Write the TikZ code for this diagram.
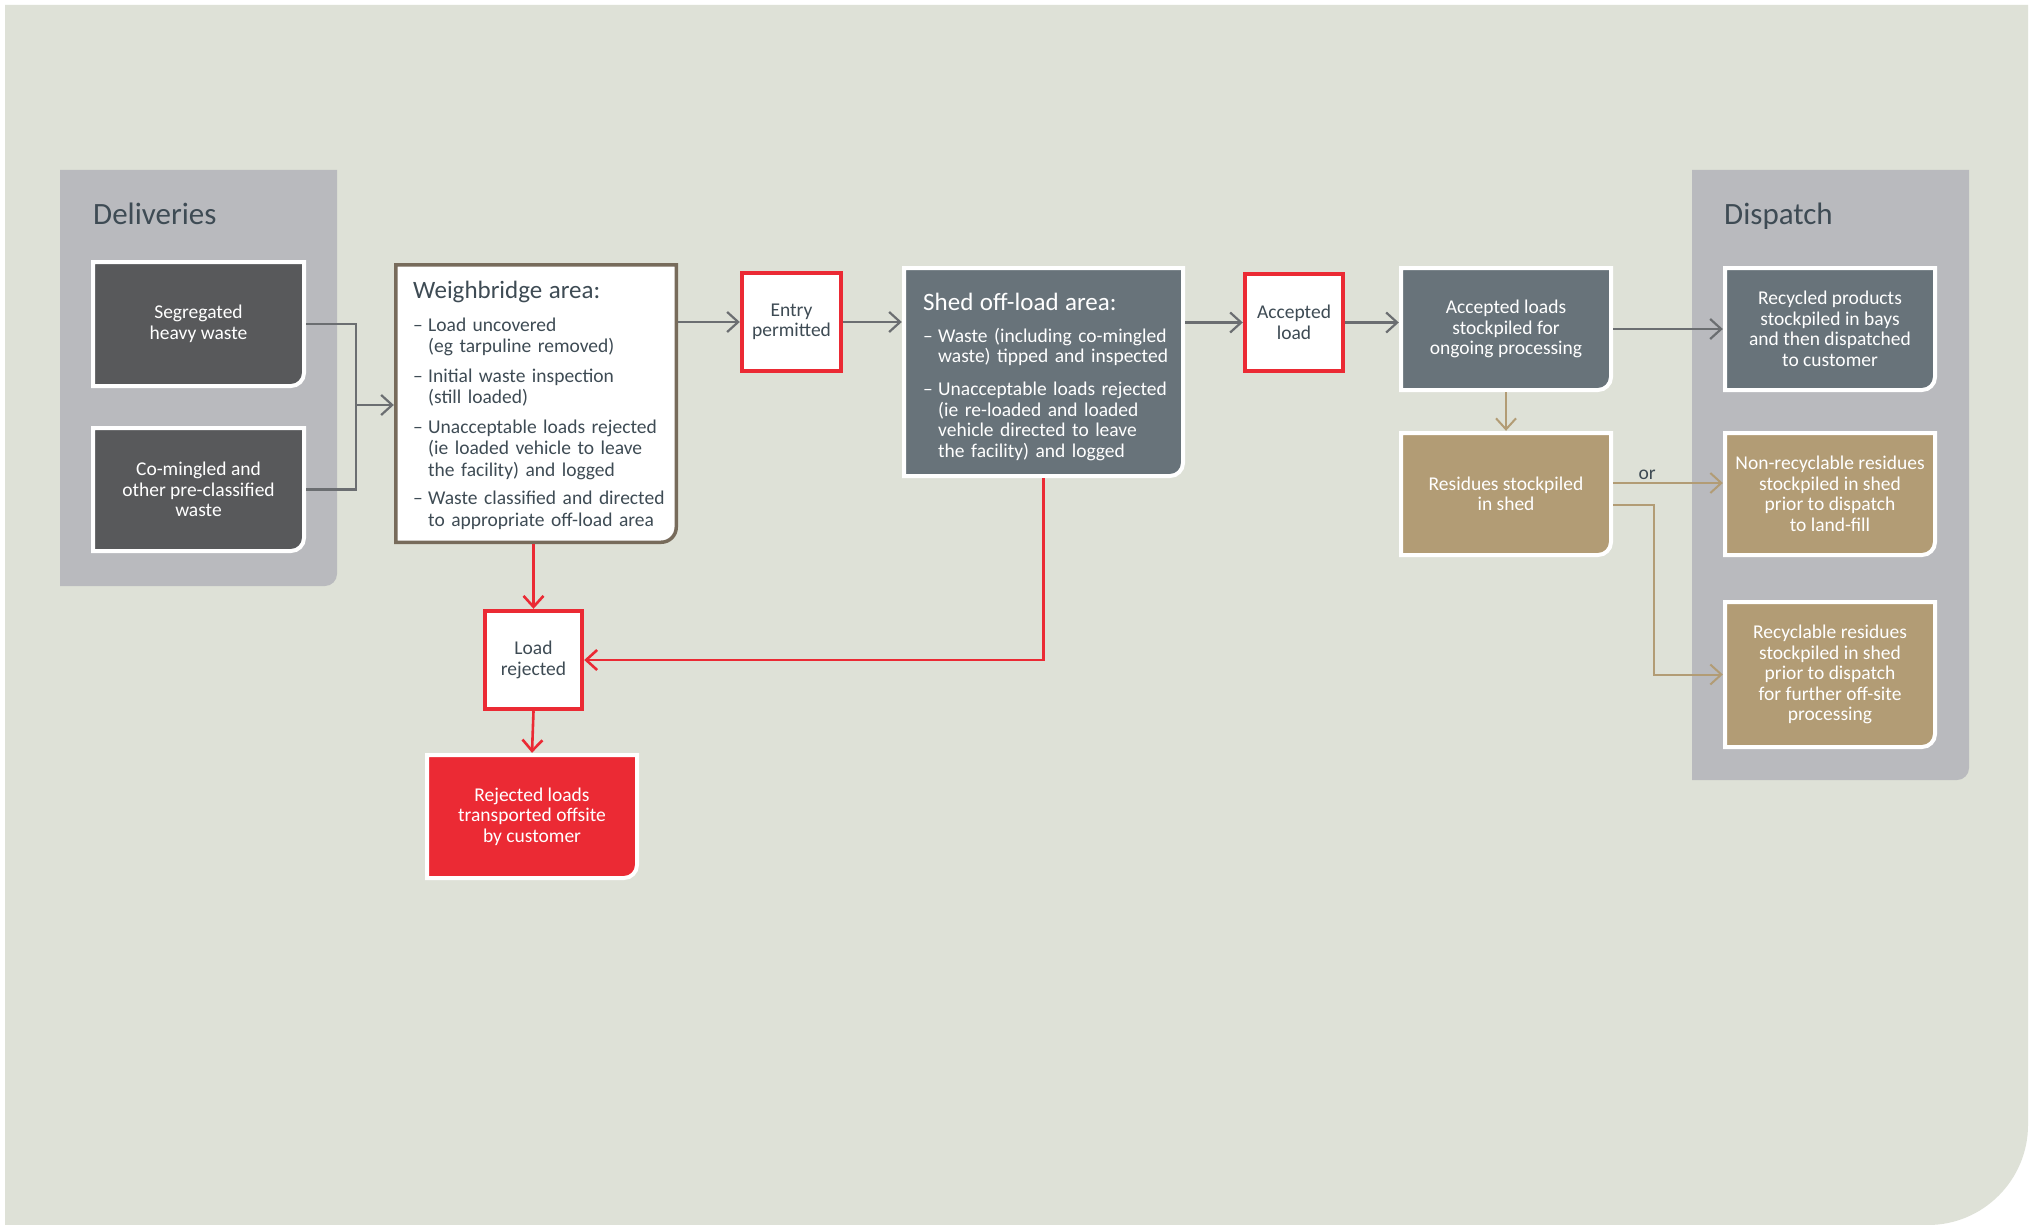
\documentclass[tikz,border=0pt]{standalone}
\usepackage{fontspec}
\setmainfont{Carlito}
\usetikzlibrary{arrows.meta}
\definecolor{bgc}{HTML}{DEE1D7}
\definecolor{panelc}{HTML}{B9BABE}
\definecolor{darkc}{HTML}{58595B}
\definecolor{slatec}{HTML}{68737A}
\definecolor{tanc}{HTML}{B29C75}
\definecolor{redc}{HTML}{EB2A34}
\definecolor{textc}{HTML}{3E4B54}
\definecolor{linec}{HTML}{6B6E71}
\definecolor{wbc}{HTML}{776B5B}
\newcommand\rshape[6]{\path[#1] (#2,#3) -- (#4,#3) -- (#4,{#5-#6}) .. controls (#4,{#5-0.45*#6}) and ({#4-0.45*#6},#5) .. ({#4-#6},#5) -- (#2,#5) -- cycle;}
\newcommand\rbox[8]{%
  \rshape{#2}{#3+2}{#4+2}{#5-2}{#6-2}{13}
  \node[#7, inner sep=0pt, minimum width={(#5-#3)*1pt}, minimum height={(#6-#4)*1pt}] (#1) at ({(#3+#5)/2},{(#4+#6)/2}) {#8};}
\newcommand\sqbox[6]{%
  \path[sqshape] ({#2+2},{#3+2}) rectangle ({#4-2},{#5-2});
  \node[dtext, inner sep=0pt, minimum width={(#4-#2)*1pt}, minimum height={(#5-#3)*1pt}] (#1) at ({(#2+#4)/2},{(#3+#5)/2}) {#6};}
\newcommand\itemdash{\makebox[15pt][l]{–}}
\newcommand\itemind{\hspace*{15pt}}
\begin{document}
\begin{tikzpicture}[x=1pt,y=-1pt,
  bodyfont/.style={font=\fontsize{19.5}{20.5}\selectfont},
  wtext/.style={bodyfont, align=center, text=white},
  dtext/.style={bodyfont, align=center, text=textc},
  darkshape/.style={fill=darkc, draw=white, line width=4pt},
  slateshape/.style={fill=slatec, draw=white, line width=4pt},
  tanshape/.style={fill=tanc, draw=white, line width=4pt},
  redshape/.style={fill=redc, draw=white, line width=4pt},
  sqshape/.style={fill=white, draw=redc, line width=4pt},
  paneltitle/.style={font=\fontsize{31}{31}\selectfont, text=textc, anchor=base west, inner sep=0pt},
  garrow/.style={draw=linec, line width=2.2pt, -{Straight Barb[length=11pt,width=20pt]}},
  gline/.style={draw=linec, line width=2.2pt},
  rarrow/.style={draw=redc, line width=2.6pt, -{Straight Barb[length=11pt,width=20pt]}},
  tarrow/.style={draw=tanc, line width=2pt, -{Straight Barb[length=11pt,width=20pt]}},
  tline/.style={draw=tanc, line width=2pt}]
\useasboundingbox (0,0) rectangle (2031,1225);
\fill[white] (0,0) rectangle (2031,1225);
\fill[bgc] (5,5) -- (2028,5) -- (2028,1125) .. controls (2028,1180) and (1983,1225) .. (1928,1225) -- (5,1225) -- cycle;
% panels
\rshape{fill=panelc}{60}{170}{337}{586}{12}
\rshape{fill=panelc}{1692}{170}{1969}{780}{12}
\node[paneltitle] (deltitle) at (93,224) {Deliveries};
\node[paneltitle] (distitle) at (1724,225) {Dispatch};
% deliveries
\rbox{b1}{darkshape}{91}{260}{306}{388}{wtext}{Segregated\\heavy waste}
\rbox{b2}{darkshape}{91}{426}{306}{553}{wtext}{Co-mingled and\\other pre-classified\\waste}
% weighbridge
\rshape{fill=white, draw=wbc, line width=3.5pt}{395.75}{264.75}{676.25}{542.25}{15}
\node[inner sep=0pt, minimum width=284pt, minimum height=281pt] (wb) at (536,403.5) {};
\node[anchor=base west, inner sep=0pt, text width=262pt, align=left, text=textc, font=\fontsize{19.5}{21.5}\selectfont] (wbtext) at (413,298) {%
{\fontsize{25}{25}\selectfont Weighbridge area:}\\[11.5pt]
\itemdash Load uncovered\\
\itemind (eg tarpuline removed)\\[8pt]
\itemdash Initial waste inspection\\
\itemind (still loaded)\\[8pt]
\itemdash Unacceptable loads rejected\\
\itemind (ie loaded vehicle to leave\\
\itemind the facility) and logged\\[7pt]
\itemdash Waste classified and directed\\
\itemind to appropriate off-load area};
% entry permitted
\sqbox{ep}{740}{271}{843}{373}{Entry\\permitted}
% shed
\rbox{shed}{slateshape}{902}{266}{1185}{478}{wtext}{}
\node[anchor=base west, inner sep=0pt, text width=255pt, align=left, text=white, font=\fontsize{19.5}{20.5}\selectfont] (shedtext) at (923,310) {%
{\fontsize{25}{25}\selectfont Shed off-load area:}\\[11.5pt]
\itemdash Waste (including co-mingled\\
\itemind waste) tipped and inspected\\[12.5pt]
\itemdash Unacceptable loads rejected\\
\itemind (ie re-loaded and loaded\\
\itemind vehicle directed to leave\\
\itemind the facility) and logged};
% accepted load
\sqbox{al}{1243}{272}{1345}{373}{Accepted\\load}
% processing
\rbox{sp}{slateshape}{1399}{266}{1613}{392}{wtext}{Accepted loads\\stockpiled for\\ongoing processing}
\rbox{rp}{slateshape}{1723}{266}{1937}{392}{wtext}{Recycled products\\stockpiled in bays\\and then dispatched\\to customer}
\rbox{res}{tanshape}{1399}{431}{1613}{557}{wtext}{Residues stockpiled\\in shed}
\rbox{nr}{tanshape}{1723}{431}{1937}{557}{wtext}{Non-recyclable residues\\stockpiled in shed\\prior to dispatch\\to land-fill}
\rbox{rc}{tanshape}{1723}{600}{1937}{749}{wtext}{Recyclable residues\\stockpiled in shed\\prior to dispatch\\for further off-site\\processing}
% rejected
\sqbox{lr}{483}{609}{584}{711}{Load\\rejected}
\rbox{rl}{redshape}{425}{753}{639}{880}{wtext}{Rejected loads\\transported offsite\\by customer}
% connectors
\coordinate (j) at (356,405);
\draw[gline] (b1.east) -| (j);
\draw[gline] (b2.east) -| (j);
\draw[garrow] (j) -- (wb.west |- j);
\draw[garrow] (wb.east |- ep) -- (ep.west);
\draw[garrow] (ep.east) -- (shed.west |- ep);
\draw[garrow] (shed.east |- al) -- (al.west);
\draw[garrow] (al.east) -- (sp.west |- al);
\draw[garrow] (sp.east) -- (rp.west);
\draw[tarrow] (sp.south) -- (res.north);
\draw[tarrow] ([yshift=11pt]res.east) -- node[pos=0.31, above=1pt, inner sep=1pt, text=textc, font=\fontsize{19.5}{20}\selectfont] (orlabel) {or} ([yshift=11pt]nr.west);
\draw[tarrow] ([yshift=-11pt]res.east) -- ++(41,0) |- (rc.west);
\draw[rarrow] (lr.north |- wb.south) -- (lr.north);
\draw[rarrow] (shed.south) |- (lr.east);
\draw[rarrow] (lr.south) -- (rl.north);
\end{tikzpicture}
\end{document}
